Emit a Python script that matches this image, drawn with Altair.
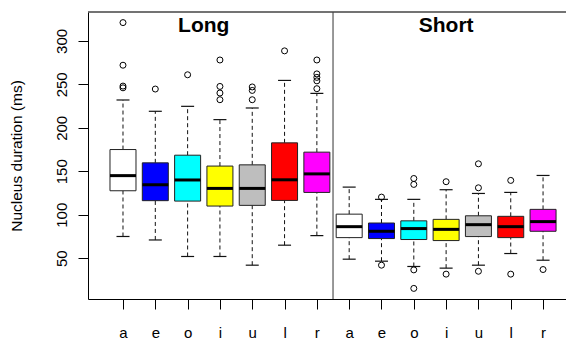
import json
import altair as alt
import pandas as pd

vowels = ["a", "e", "o", "i", "u", "l", "r"]
groups = ["Long", "Short"]
box_colors = ["#FFFFFF", "#0000FF", "#00FFFF", "#FFFF00", "#BEBEBE", "#FF0000", "#FF00FF"]

long_lower = [75, 71, 52, 52, 42, 65, 76]
long_q1 = [127.6, 116.2, 115.7, 110, 110.8, 116.5, 125.7]
long_med = [145, 134.5, 140, 130.3, 130.3, 140.2, 147]
long_q3 = [175, 159.7, 168.5, 156, 157.4, 182.7, 172]
long_upper = [232, 219, 224.7, 209.4, 222.8, 254.5, 239.6]
long_outliers = [[321, 272, 248, 246], [244.6], [261], [278, 247.6, 240, 232.3],
                 [247, 243, 232.3], [288.5], [278, 262, 258, 254, 245]]

short_lower = [48.9, 46.6, 40.5, 38.6, 42, 55.4, 47.7]
short_q1 = [73.7, 72.6, 71.5, 70.3, 74.9, 73.7, 81]
short_med = [86.3, 81, 84.1, 83.2, 88.6, 86.3, 92.1]
short_q3 = [100.7, 90.5, 93, 94.7, 98.8, 98.2, 106.2]
short_upper = [131.8, 117.7, 117.7, 128.8, 124.5, 125.7, 145.2]
short_outliers = [[], [120.3, 42], [141.7, 134.9, 36.6, 15.3], [138, 31.7],
                  [158.6, 131, 35], [139.5, 31.7], [37]]

panel_label_x = [3.5, 11.0]
panel_label_y = [310, 310]

rows, outs = [], []
stats = {
    "Long": (long_lower, long_q1, long_med, long_q3, long_upper, long_outliers),
    "Short": (short_lower, short_q1, short_med, short_q3, short_upper, short_outliers),
}
pos = 0
for g in groups:
    lo, q1, md, q3, hi, ol = stats[g]
    for i, v in enumerate(vowels):
        pos += 1
        rows.append(dict(group=g, vowel=v, pos=pos, color=box_colors[i],
                         lower=lo[i], q1=q1[i], med=md[i], q3=q3[i], upper=hi[i]))
        for o in ol[i]:
            outs.append(dict(pos=pos, value=o))
df = pd.DataFrame(rows)
dfo = pd.DataFrame(outs)
divider = pd.DataFrame({"x": [(len(vowels) + len(vowels) + 1) / 2]})
labels = pd.DataFrame({"text": groups, "x": panel_label_x, "y": panel_label_y})

n = len(df)
xscale = alt.Scale(domain=[-0.083, 14.71], nice=False, zero=False, padding=0)
yscale = alt.Scale(domain=[3.1, 333.2], nice=False, zero=False, padding=0)

label_expr = "%s[(datum.value - 1) %% %d]" % (json.dumps(vowels), len(vowels))

xaxis = alt.Axis(values=list(range(1, n + 1)), tickCount=40, labelExpr=label_expr, title=None,
                 grid=False, domain=True, domainColor="#000", domainWidth=1,
                 tickSize=10, tickColor="#000",
                 labelFontSize=15, labelColor="#000", labelBaseline="alphabetic",
                 labelPadding=28, labelFont="Liberation Sans",
                 labelOverlap=False, labelFlush=False, labelBound=False)
yaxis = alt.Axis(values=[50, 100, 150, 200, 250, 300], tickCount=20, title="Nucleus duration (ms)",
                 grid=False, domain=True, domainColor="#000", domainWidth=1,
                 tickSize=10, tickColor="#000",
                 labelFontSize=15, labelColor="#000", labelAngle=-90,
                 labelAlign="center", labelBaseline="alphabetic", labelPadding=12,
                 labelFont="Liberation Sans", labelOverlap=False, labelFlush=False,
                 titleFont="Liberation Sans", titleFontSize=15.5, titleFontWeight="normal",
                 titleColor="#000", titleAngle=-90, titleX=-66.5, titleY=143.5,
                 titleAlign="center", titleBaseline="alphabetic")

base = alt.Chart(df)
x = alt.X("pos:Q", scale=xscale, axis=xaxis)

dash = [4, 3]
upper_wh = base.mark_rule(color="#111", strokeDash=dash, strokeWidth=1).encode(
    x=x, y=alt.Y("q3:Q", scale=yscale, axis=yaxis), y2="upper:Q")
lower_wh = base.mark_rule(color="#111", strokeDash=dash, strokeWidth=1).encode(
    x="pos:Q", y="lower:Q", y2="q1:Q")
cap_hi = base.mark_tick(color="#111", size=13, thickness=1.2, orient="horizontal",
                        opacity=1).encode(x="pos:Q", y="upper:Q")
cap_lo = base.mark_tick(color="#111", size=13, thickness=1.2, orient="horizontal",
                        opacity=1).encode(x="pos:Q", y="lower:Q")
boxes = base.mark_bar(size=26, stroke="#222", strokeWidth=1, opacity=1).encode(
    x="pos:Q", y="q1:Q", y2="q3:Q", color=alt.Color("color:N", scale=None))
medians = base.mark_tick(color="#000", size=26, thickness=3, orient="horizontal",
                         opacity=1).encode(x="pos:Q", y="med:Q")
points = alt.Chart(dfo).mark_point(shape="circle", filled=False, color="#000",
                                   size=36, strokeWidth=1, opacity=1).encode(
    x="pos:Q", y="value:Q")
div_rule = alt.Chart(divider).mark_rule(color="#333", strokeWidth=1).encode(x="x:Q")
top_rule = alt.Chart(divider).mark_rule(color="#444", strokeWidth=1.5).encode(y=alt.value(0))
titles = alt.Chart(labels).mark_text(fontSize=21, fontWeight="bold", color="#000",
                                     font="Liberation Sans", baseline="alphabetic").encode(
    x="x:Q", y="y:Q", text="text:N")

chart = alt.layer(upper_wh, lower_wh, cap_hi, cap_lo, boxes, medians, points,
                  div_rule, top_rule, titles).properties(
    width=478, height=287,
    padding={"left": 80, "top": 4, "right": 0, "bottom": 42},
    autosize=alt.AutoSizeParams(type="none"),
    background="#FFFFFF",
).configure_view(strokeWidth=0)

chart.save("out.html", embed_options={"renderer": "svg", "actions": False})
